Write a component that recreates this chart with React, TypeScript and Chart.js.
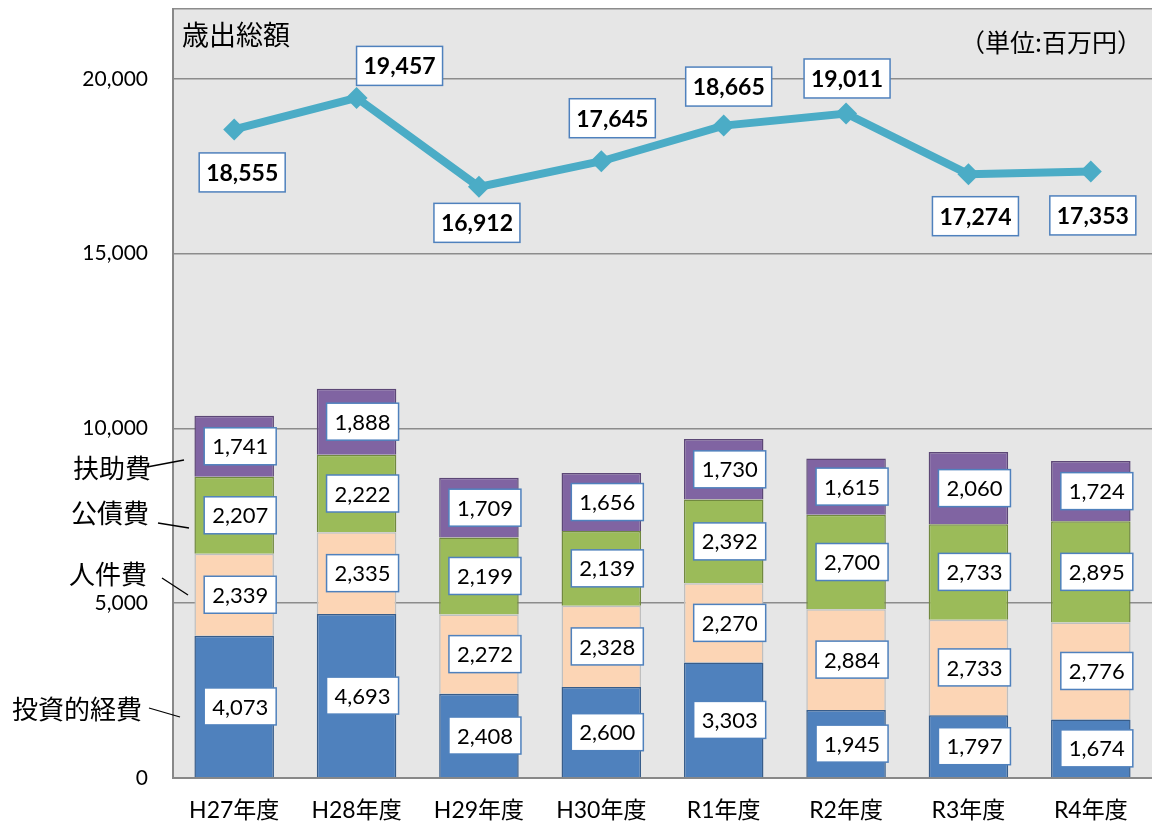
import React, { useEffect, useRef } from "react";
import { Chart, registerables } from "chart.js";

Chart.register(...registerables);

const categories = ["H27年度", "H28年度", "H29年度", "H30年度", "R1年度", "R2年度", "R3年度", "R4年度"];
const investment = [4073, 4693, 2408, 2600, 3303, 1945, 1797, 1674];
const personnel = [2339, 2335, 2272, 2328, 2270, 2884, 2733, 2776];
const debt = [2207, 2222, 2199, 2139, 2392, 2700, 2733, 2895];
const welfare = [1741, 1888, 1709, 1656, 1730, 1615, 2060, 1724];
const totalExpenditure = [18555, 19457, 16912, 17645, 18665, 19011, 17274, 17353];
const yTicks = [0, 5000, 10000, 15000, 20000];
const seriesNames = ["投資的経費", "人件費", "公債費", "扶助費"];

// label placement for total line: dx, dy offsets from point
const lineLabelOffsets: [number, number][] = [
  [8, 43], [43, -32], [-2, 36], [11, -43], [5, -39], [1, -35], [7, 42], [2, 44],
];

const FONT = "Lato, 'Noto Sans CJK JP', sans-serif";
const JFONT = "'Noto Sans CJK JP', sans-serif";
const fmt = (v: number) => v.toLocaleString("en-US");

const labelPlugin = {
  id: "labels",
  beforeDraw(chart: any) {
    const { ctx, chartArea } = chart;
    ctx.save();
    ctx.fillStyle = "#E6E6E6";
    ctx.fillRect(chartArea.left, chartArea.top, chartArea.right - chartArea.left, chartArea.bottom - chartArea.top);
    ctx.restore();
  },
  afterDatasetsDraw(chart: any) {
    const { ctx } = chart;
    ctx.save();
    const drawBox = (cx: number, cy: number, w: number, h: number, text: string, bold: boolean, size: number) => {
      ctx.fillStyle = "#FFFFFF";
      ctx.fillRect(cx - w / 2, cy - h / 2, w, h);
      ctx.strokeStyle = "#4F81BD";
      ctx.lineWidth = 1.5;
      ctx.strokeRect(cx - w / 2, cy - h / 2, w, h);
      ctx.fillStyle = "#000000";
      ctx.font = `${bold ? "bold " : ""}${size}px ${FONT}`;
      ctx.textAlign = "center";
      ctx.textBaseline = "middle";
      ctx.fillText(text, cx, cy + 1);
    };
    for (let d = 0; d < 4; d++) {
      const meta = chart.getDatasetMeta(d);
      const data = chart.data.datasets[d].data as number[];
      meta.data.forEach((el: any, i: number) => {
        const cy = (el.y + el.base) / 2;
        drawBox(el.x + 6, cy, 72, 37, fmt(data[i]), false, 22);
      });
    }
    const lmeta = chart.getDatasetMeta(4);
    lmeta.data.forEach((el: any, i: number) => {
      const [dx, dy] = lineLabelOffsets[i];
      drawBox(el.x + dx, el.y + dy, 86, 39, fmt(totalExpenditure[i]), true, 23);
    });

    // titles
    ctx.fillStyle = "#000000";
    ctx.textBaseline = "middle";
    ctx.font = `27px ${JFONT}`;
    ctx.textAlign = "left";
    ctx.fillText("歳出総額", 182, 35);
    ctx.font = `25px ${JFONT}`;
    ctx.textAlign = "right";
    ctx.fillText("（単位:百万円）", 1142, 42);

    // series annotations with leader lines
    const notes: { t: string; x: number; y: number; l: number[] }[] = [
      { t: seriesNames[3], x: 112, y: 468, l: [147, 467, 184, 460] },
      { t: seriesNames[2], x: 110, y: 513, l: [158, 523, 189, 528] },
      { t: seriesNames[1], x: 108, y: 574, l: [162, 578, 188, 595] },
      { t: seriesNames[0], x: 77, y: 709, l: [149, 708, 180, 717] },
    ];
    ctx.font = `26px ${JFONT}`;
    ctx.textAlign = "center";
    ctx.strokeStyle = "#000000";
    ctx.lineWidth = 1.3;
    notes.forEach((n) => {
      ctx.fillText(n.t, n.x, n.y);
      ctx.beginPath();
      ctx.moveTo(n.l[0], n.l[1]);
      ctx.lineTo(n.l[2], n.l[3]);
      ctx.stroke();
    });
    ctx.restore();
  },
};

export default function App() {
  const ref = useRef<HTMLCanvasElement | null>(null);
  useEffect(() => {
    if (!ref.current) return;
    const barCommon = { barPercentage: 0.65, categoryPercentage: 1, borderWidth: 1.5, stack: "bars", order: 1 };
    const chart = new Chart(ref.current, {
      type: "bar",
      data: {
        labels: categories,
        datasets: [
          { ...barCommon, label: seriesNames[0], data: investment, backgroundColor: "#4F81BD", borderColor: "#385D8A" },
          { ...barCommon, label: seriesNames[1], data: personnel, backgroundColor: "#FCD5B5", borderColor: "#BFBFBF" },
          { ...barCommon, label: seriesNames[2], data: debt, backgroundColor: "#9BBB59", borderColor: "#71893F" },
          { ...barCommon, label: seriesNames[3], data: welfare, backgroundColor: "#8064A2", borderColor: "#5C4776" },
          {
            type: "line",
            label: "歳出総額",
            data: totalExpenditure,
            stack: "total",
            order: 0,
            borderColor: "#4BACC6",
            backgroundColor: "#4BACC6",
            borderWidth: 8,
            pointStyle: "rectRot",
            pointRadius: 11,
            pointBorderWidth: 0,
            fill: false,
            tension: 0,
          } as any,
        ],
      },
      options: {
        responsive: false,
        animation: false,
        maintainAspectRatio: false,
        layout: { autoPadding: false, padding: { top: 9, right: 0, left: 0, bottom: 0 } },
        plugins: { legend: { display: false }, tooltip: { enabled: false } },
        scales: {
          x: {
            stacked: true,
            grid: { display: false, drawTicks: false },
            border: { color: "#888888", width: 2 },
            ticks: { color: "#000000", font: { size: 23, family: FONT }, padding: 19 },
            afterFit(scale: any) {
              scale.height = 48;
              scale.paddingLeft = 0;
              scale.paddingRight = 0;
            },
          },
          y: {
            stacked: true,
            min: 0,
            max: 22000,
            afterBuildTicks(scale: any) {
              scale.ticks = [...yTicks, 22000].map((v) => ({ value: v }));
            },
            grid: { color: "#8C8C8C", lineWidth: 1.5, drawTicks: false },
            border: { color: "#888888", width: 2 },
            ticks: {
              color: "#000000",
              font: { size: 21, family: FONT },
              padding: 25,
              callback: (v: any) => (yTicks.includes(Number(v)) ? fmt(Number(v)) : ""),
            },
            afterFit(scale: any) {
              scale.width = 173;
              scale.paddingTop = 0;
              scale.paddingBottom = 0;
            },
          },
        },
      },
      plugins: [labelPlugin],
    } as any);
    return () => chart.destroy();
  }, []);
  return (
    <div style={{ position: "fixed", left: 0, top: 0, width: 1152, height: 826, background: "#FFFFFF" }}>
      <canvas ref={ref} width={1152} height={826} style={{ width: 1152, height: 826 }} />
    </div>
  );
}
